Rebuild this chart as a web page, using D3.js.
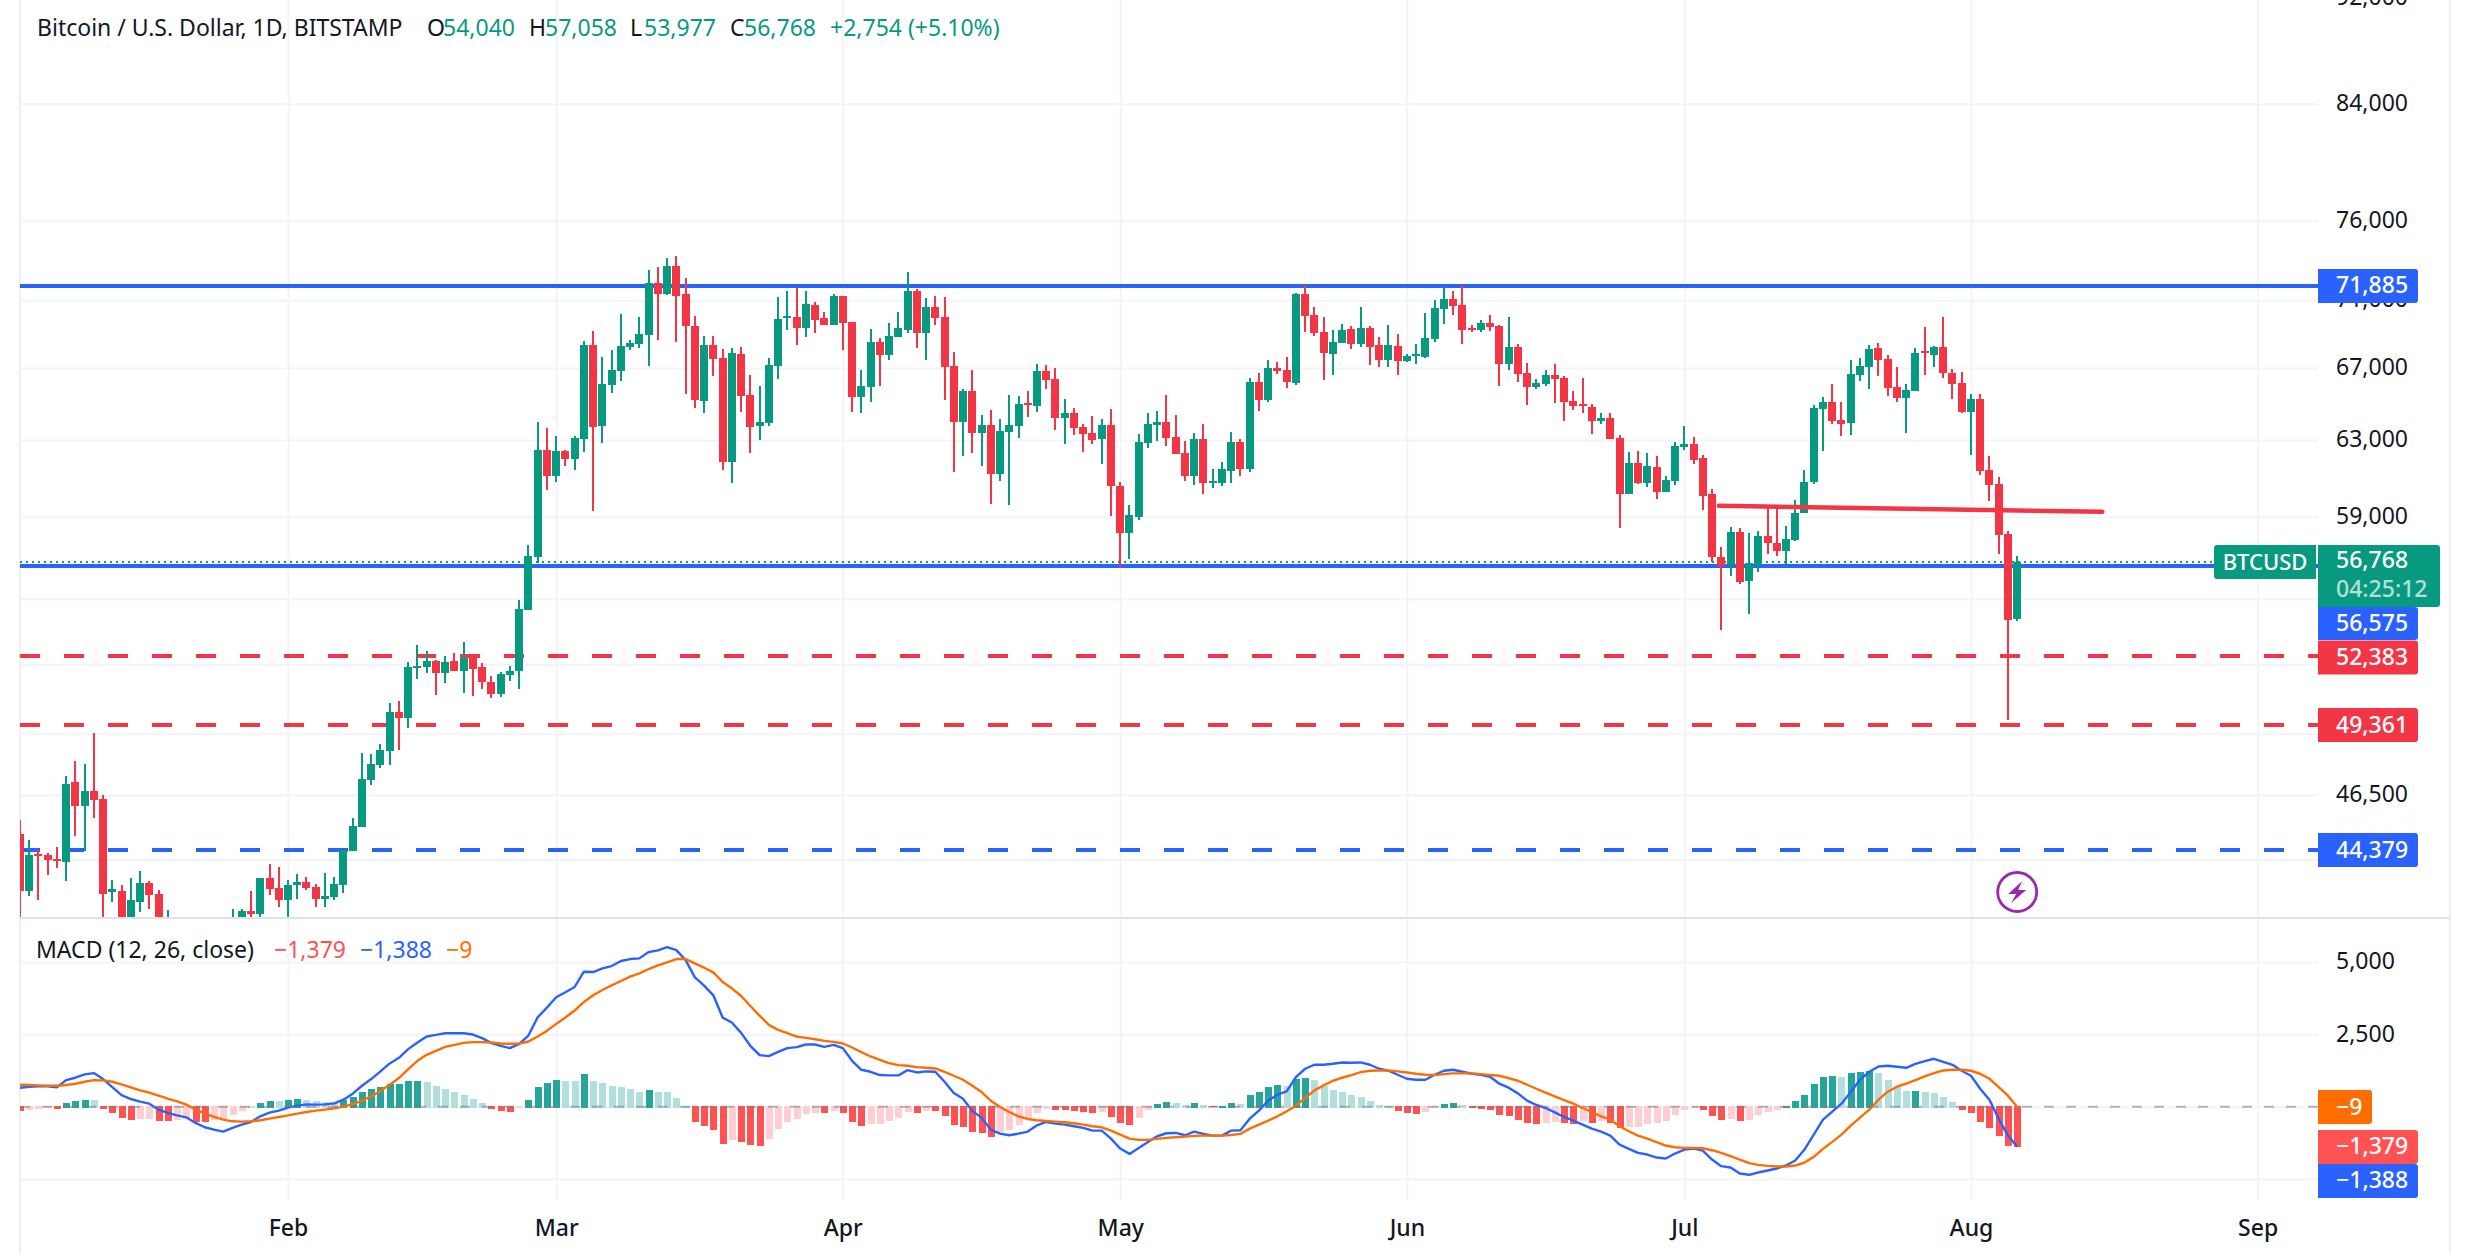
<!DOCTYPE html>
<html><head><meta charset="utf-8">
<script src="https://cdn.jsdelivr.net/npm/d3@7/dist/d3.min.js"></script>
<style>
html,body{margin:0;padding:0;background:#fff;overflow:hidden}
svg{display:block}
text{font-family:"Noto Sans",sans-serif}
</style></head><body><svg id="c" width="2470" height="1253"></svg>
<script>
const opens=[
44980,42840,44210,44180,44030,43920,47030,46070,46660,46340,42800,42840,41620,42440,43140,42720,41290,41650,41680,41580,39530,39880,40080,39950,41820,42120,42010,43320,42950,
42510,43060,43180,42990,42550,42620,43060,44320,45250,47110,47720,48290,49930,49680,51860,51900,52160,51630,52160,51720,52300,51860,51240,50710,51540,51720,54490,57010,62460,
61100,62410,61990,63060,68340,63770,66050,66840,68210,68400,68940,72070,71390,73130,71390,69470,65130,68340,67580,61830,67810,65470,63770,63930,67130,69950,70010,69350,70720,69950,69530,
71270,69710,65360,65930,68510,67750,68810,69230,71570,69050,70600,70010,67130,63990,65700,63390,63830,61210,63440,63770,65030,64860,66840,66390,64210,64480,63720,63390,63060,63830,
60570,58200,59000,62840,63830,63990,63170,62300,61100,63060,60740,60740,61360,62890,61470,66220,65190,67010,66900,66160,71390,70130,69110,67810,68450,69290,68400,69350,68340,67470,68280,
67410,67700,67640,68690,70480,71080,70720,69350,69230,69650,69470,67240,68210,66730,65930,66100,66610,66440,65130,64970,64810,64040,64210,63110,60160,61780,60740,61570,60270,60840,
62620,62790,62040,60160,57010,56630,58250,55820,56630,58050,57700,57300,57850,59200,60790,64700,65080,64100,63930,66610,67070,68160,67530,65930,65300,65700,67980,67750,68210,66730,66160,
64530,65250,61420,60690,58150,54040];
const highs=[
45520,44730,44360,44250,44480,47270,47880,47760,49030,46500,43250,43060,43320,43580,43210,42880,42150,41850,41860,41700,40150,40500,40300,42190,42190,42840,43320,43840,43730,
43250,43470,43360,43100,43510,43360,44360,45600,48210,48170,48570,50310,50400,52120,52880,52610,52210,52380,52520,53020,52470,52080,51500,51680,51940,54950,57600,63990,63660,
63220,62460,63220,68570,69170,67640,68040,70190,68630,70010,72880,73060,73620,73750,72380,70070,68880,68880,68100,68160,68210,66610,65990,67580,71200,71570,71760,71570,70900,70310,71390,
71270,69710,66900,69290,68760,69650,70310,72760,71700,71140,71270,71200,67930,65820,66900,64370,64640,64150,65470,65420,65700,67240,67190,67010,65250,64750,63880,64320,64150,64700,
60790,59600,63330,64480,64590,65470,64370,62950,63390,63880,61470,61830,63440,63060,66440,66730,67470,67360,67640,71440,71950,70600,70010,69230,69590,69470,70600,69470,68810,69530,69000,
67810,68400,70250,71020,71890,71570,71950,69530,69830,70130,69530,70010,68400,67300,66390,66900,67240,66560,65700,66440,64970,64480,64480,63280,62360,62410,62300,62150,61100,62890,
63770,63170,62200,60420,57500,58500,58450,58200,58300,59500,59500,58550,59850,61420,64920,65360,66100,65080,67470,67580,68340,68450,67750,67070,66100,68160,69410,68280,70010,66960,66790,
65530,65530,62150,61050,58300,57058];
const lows=[
40390,42660,42510,43440,43690,43210,44900,44320,45600,41620,42440,41440,41260,42080,42190,40500,40280,41500,41500,39450,38550,39500,39550,39800,41400,41620,41620,42690,42260,
41870,42550,42880,42260,42260,42510,42770,44320,45250,46910,47600,47720,48330,49260,51370,51630,50660,51190,51720,50750,50620,50930,50530,50570,51280,50930,54490,56730,60370,
60790,61620,61420,62360,59300,62840,65590,66260,68040,68160,67130,68630,71330,68510,65530,64750,64480,66560,61420,60740,64530,62300,63000,63770,66390,69230,68340,68810,69050,69530,69530,
68040,64530,64480,65080,65990,67470,68810,69050,68160,67470,69530,65190,61310,62150,62300,61620,59650,60840,59600,63110,64260,64530,65820,63550,62790,63280,62360,62790,61730,59050,
56490,56920,58850,62570,62950,62680,62250,60840,60630,60160,60480,60580,60740,61100,61310,64590,65080,66670,65870,66050,69110,68880,66330,66610,68450,68100,68210,67190,67070,67070,66610,
67360,67240,67580,68510,69590,70130,68400,69110,69110,69170,65990,66900,66220,64920,65820,65990,65030,64040,64640,64480,63330,63880,63060,58450,60160,60690,60530,59900,60270,60630,
62460,61730,59350,56770,53570,56060,55720,54310,56290,57160,57060,56530,57800,59200,60690,62410,63880,63220,63280,66270,65820,66560,65420,65080,63390,65700,66610,67070,66440,65250,64480,
62200,61150,59800,57160,49580,53977];
const closes=[
42840,44180,44140,43990,43990,46950,46070,46660,46300,42720,42910,41620,42510,43140,42690,41300,41650,41680,41580,39530,39880,40080,39950,41800,42120,42010,43310,42910,42510,
43060,43180,42950,42550,42660,43100,44360,45290,47150,47760,48330,49930,49680,51860,51940,52160,51630,52120,51720,52300,51810,51240,50710,51590,51720,54540,57060,62460,61100,
62410,61990,63110,68340,63720,66100,66900,68280,68450,69000,72070,71390,73130,71270,69470,65190,68340,67530,61830,67870,65420,63720,63990,67190,69890,70070,69350,70780,69830,69530,71270,
69650,65360,65990,68510,67750,68880,69350,71570,69050,70600,69950,67070,63990,65700,63390,63830,61210,63500,63830,64970,64920,66840,66330,64210,64480,63660,63330,63000,63830,60570,
58200,59100,62890,63880,63990,63110,62250,61100,63060,60740,60840,61470,62890,61470,66220,65190,67010,66840,66220,71390,70070,69050,67870,68510,69230,68400,69350,68210,67470,68340,67410,
67700,67810,68760,70540,71080,70660,69230,69230,69650,69410,67240,68210,66670,65930,66160,66610,66390,65080,64860,64860,64040,64210,63060,60160,61780,60740,61620,60270,60890,62680,
62790,61940,60060,57010,56580,58250,55770,56730,58050,57700,57300,57900,59200,60790,64750,65080,64040,63880,66670,67130,68100,67470,65870,65300,65760,67870,67870,68210,66730,66100,64530,
65250,61360,60630,58100,54000,56768];
const macdLine=[
655,689,701,701,666,919,1000,1115,1160,954,678,402,264,172,103,-103,-218,-299,-368,-563,-712,-793,-862,-735,-620,-529,-333,-207,-138,
-34,34,80,69,80,115,241,448,724,954,1218,1494,1689,1988,2218,2424,2482,2539,2539,2539,2493,2367,2195,2103,2022,2172,2459,3091,3424,
3780,3953,4136,4665,4653,4780,4860,5033,5102,5125,5343,5400,5515,5412,5067,4470,4182,3849,3079,2907,2551,2103,1781,1746,1896,2022,2057,2149,2149,2068,2137,
2022,1586,1275,1206,1092,1080,1080,1264,1183,1218,1206,862,471,276,-149,-379,-793,-931,-988,-931,-862,-643,-529,-586,-620,-678,-735,-827,-827,-1103,
-1448,-1632,-1425,-1218,-1023,-919,-908,-988,-862,-942,-1000,-1000,-827,-816,-414,-138,207,414,529,1023,1310,1448,1448,1482,1528,1517,1528,1448,1310,1241,1103,
965,931,931,1103,1241,1275,1206,1138,1103,1034,793,655,460,207,57,-46,-195,-356,-483,-620,-758,-862,-1000,-1310,-1459,-1597,-1655,-1758,-1792,-1620,
-1482,-1448,-1517,-1827,-2057,-2103,-2309,-2355,-2275,-2206,-2137,-2034,-1861,-1482,-965,-448,-172,103,506,931,1206,1390,1413,1379,1344,1482,1574,1655,1551,1448,1241,
1069,620,241,-414,-1000,-1388];
const signalLine=[
758,747,735,724,724,747,793,862,919,908,862,770,666,563,483,379,276,184,69,-103,-241,-356,-448,-506,-517,-506,-471,-414,-356,
-299,-241,-184,-138,-103,-57,0,92,207,356,540,758,988,1298,1586,1792,1930,2068,2137,2206,2229,2229,2218,2183,2172,2183,2252,2424,2620,
2861,3079,3321,3619,3849,4033,4194,4343,4493,4607,4757,4883,4987,5102,5102,4952,4803,4642,4309,4090,3826,3481,3148,2827,2654,2539,2424,2378,2332,2275,2241,
2183,2045,1884,1735,1620,1505,1436,1413,1367,1344,1321,1206,1069,931,724,506,207,-11,-184,-333,-425,-471,-494,-517,-540,-575,-620,-678,-712,-827,
-965,-1103,-1149,-1149,-1115,-1080,-1057,-1034,-1011,-1000,-1000,-1000,-977,-942,-758,-620,-483,-333,-161,34,299,563,735,896,1000,1092,1195,1241,1252,1252,1218,
1183,1138,1103,1092,1126,1149,1149,1149,1126,1092,1069,988,896,758,620,483,356,230,103,-46,-184,-333,-448,-678,-850,-1000,-1103,-1229,-1344,-1402,
-1425,-1425,-1436,-1505,-1597,-1712,-1827,-1953,-2011,-2045,-2068,-2068,-2034,-1930,-1735,-1459,-1218,-965,-655,-379,-103,241,517,689,793,919,1046,1160,1252,1275,1275,
1241,1138,965,678,379,-9];
const histogram=[
-138,-103,-80,-57,-70,138,207,241,240,-69,-207,-380,-450,-414,-410,-483,-485,-450,-414,-517,-518,-450,-414,-276,-138,-46,138,207,207,
241,276,241,207,172,150,241,345,517,620,690,793,800,896,900,862,724,620,517,414,276,138,-69,-138,-172,-34,241,690,827,
930,900,896,1137,896,827,724,690,620,517,586,517,510,310,20,-517,-655,-793,-1275,-1137,-1206,-1310,-1344,-1103,-758,-517,-414,-241,-207,-210,-138,
-207,-517,-655,-586,-585,-483,-379,-172,-207,-138,-140,-310,-620,-690,-862,-896,-1034,-862,-793,-620,-414,-207,-69,-103,-104,-138,-172,-207,-172,-345,
-551,-620,-379,-103,103,172,138,69,138,69,-20,34,138,103,414,517,690,758,724,965,1000,930,724,586,517,414,345,207,69,34,-138,
-207,-241,-172,-30,103,138,69,-34,-69,-103,-276,-310,-448,-551,-586,-551,-517,-552,-587,-483,-551,-480,-552,-724,-690,-689,-586,-551,-483,-276,
-103,-40,-103,-310,-448,-414,-483,-448,-276,-172,-103,34,207,414,793,1034,1068,1034,1172,1206,1241,1172,930,724,551,555,517,482,345,172,-103,
-207,-517,-724,-1000,-1370,-1379];
const priceGrid=[92000,84000,76000,71000,67000,63000,59000,55000,52000,49000,46500,44000];
const priceLabels=[92000,84000,76000,71000,67000,63000,59000,46500];
const macdGrid=[5000,2500,0,-2500];
const macdLabels=[5000,2500];
const monthTicks=["2024-02-01","2024-03-01","2024-04-01","2024-05-01","2024-06-01","2024-07-01","2024-08-01","2024-09-01"];
const solidLevels=[71885,56575];
const redDashLevels=[52383,49361];
const blueDashLevels=[44379];
const lastClose=56768;
const trendDays=["2024-07-04T18:00Z","2024-08-15T05:00Z"];
const trendPrices=[59550,59250];
const legendTitle="Bitcoin / U.S. Dollar, 1D, BITSTAMP";
const macdTitle="MACD (12, 26, close)";

const GREEN="#089981",RED="#f23645",BLUE="#2962ff",ORANGE="#ff6d00",HR="#ff5252",GRID="#f3f4f6";
const FONT=23;
const L=20,R=2318,PB=918,AX=2450;
const svg=d3.select("#c");
const dates=d3.utcDay.range(new Date("2024-01-03"),new Date("2024-08-07"));
const x=d3.scaleUtc().domain([new Date("2024-02-01"),new Date("2024-09-01")]).range([288,2257.6]);
const y=d3.scaleLog().domain([84000,46500]).range([103.7,795]);
const ym=d3.scaleLinear().domain([5000,-2500]).range([962,1179]);
const fmt=d3.format(",");

svg.append("defs").append("clipPath").attr("id","pp").append("rect").attr("x",L).attr("y",0).attr("width",R-L).attr("height",PB-1);
svg.select("defs").append("clipPath").attr("id","mp").append("rect").attr("x",L).attr("y",PB).attr("width",R-L).attr("height",1200-PB);

// vertical grid + time labels
const months=monthTicks.map(d=>new Date(d));
const gx=svg.append("g").attr("transform","translate(0,1200)")
  .call(d3.axisBottom(x).tickValues(months).tickFormat(d3.utcFormat("%b")).tickSizeInner(0).tickSizeOuter(0).tickPadding(20));
gx.select(".domain").remove();
gx.selectAll("text").attr("fill","#131722").attr("font-size",FONT).attr("font-weight",500).attr("dy","0.71em");
svg.append("g").attr("transform","translate(0,1200)")
  .call(d3.axisBottom(x).tickValues(months).tickFormat("").tickSizeInner(-1200).tickSizeOuter(0))
  .call(g=>g.select(".domain").remove())
  .selectAll("line").attr("stroke",GRID).attr("stroke-width",2);

// horizontal grids
function hgrid(scale,ticks){
  svg.append("g").attr("transform",`translate(${R},0)`)
    .call(d3.axisLeft(scale).tickValues(ticks).tickFormat("").tickSizeInner(R-L).tickSizeOuter(0))
    .call(g=>g.select(".domain").remove())
    .selectAll("line").attr("stroke",GRID).attr("stroke-width",2);
}
hgrid(y,priceGrid);hgrid(ym,macdGrid);
function vlabels(scale,ticks){
  const g=svg.append("g").attr("transform",`translate(${R},0)`)
    .call(d3.axisRight(scale).tickValues(ticks).tickFormat(fmt).tickSizeInner(0).tickSizeOuter(0).tickPadding(18));
  g.select(".domain").remove();
  g.selectAll("text").attr("fill","#131722").attr("font-size",FONT).attr("dy","0.29em");
}
vlabels(y,priceLabels);vlabels(ym,macdLabels);

// borders
svg.append("line").attr("x1",L).attr("x2",L).attr("y1",0).attr("y2",1253).attr("stroke","#eef0f4").attr("stroke-width",2);
svg.append("line").attr("x1",AX).attr("x2",AX).attr("y1",0).attr("y2",1253).attr("stroke","#eef0f4").attr("stroke-width",2);
svg.append("line").attr("x1",L).attr("x2",AX).attr("y1",PB).attr("y2",PB).attr("stroke","#e0e3eb").attr("stroke-width",2);

// price levels
const lv=svg.append("g").attr("shape-rendering","crispEdges");
function level(v,c,dash,sw){
  const p=Math.round(y(v));
  lv.append("line").attr("x1",L).attr("x2",R).attr("y1",p).attr("y2",p).attr("stroke",c).attr("stroke-width",sw).attr("stroke-dasharray",dash);
}
solidLevels.forEach(v=>level(v,BLUE,null,4));
redDashLevels.forEach(v=>level(v,RED,"20 24",4));
blueDashLevels.forEach(v=>level(v,BLUE,"20 24",4));
const cy=Math.round(y(lastClose));
lv.append("line").attr("x1",L).attr("x2",2214).attr("y1",cy).attr("y2",cy).attr("stroke",GREEN).attr("stroke-width",2).attr("stroke-dasharray","2 4");

// candles
const cg=svg.append("g").attr("clip-path","url(#pp)");
const candles=dates.map((d,i)=>({d,o:opens[i],h:highs[i],l:lows[i],c:closes[i]}));
const cs=cg.selectAll("g").data(candles).join("g").attr("fill",d=>d.c>=d.o?GREEN:RED).attr("shape-rendering","crispEdges");
cs.append("rect").attr("x",d=>Math.round(x(d.d))-1).attr("width",2).attr("y",d=>y(d.h)).attr("height",d=>y(d.l)-y(d.h));
cs.append("rect").attr("x",d=>Math.round(x(d.d))-4).attr("width",8)
  .attr("y",d=>y(Math.max(d.o,d.c))).attr("height",d=>Math.max(2,Math.abs(y(d.o)-y(d.c))));

// trend line
cg.append("path")
  .datum(trendDays.map((d,i)=>[new Date(d),trendPrices[i]]))
  .attr("d",d3.line().x(d=>x(d[0])).y(d=>y(d[1])))
  .attr("fill","none").attr("stroke",RED).attr("stroke-width",4.5).attr("stroke-linecap","round");

// MACD pane
const mg=svg.append("g").attr("clip-path","url(#mp)");
mg.selectAll("rect").data(histogram).join("rect")
  .attr("shape-rendering","crispEdges")
  .attr("x",(v,i)=>Math.round(x(dates[i]))-3.5).attr("width",7)
  .attr("y",v=>v>=0?ym(v):ym(0)-1).attr("height",v=>v>=0?ym(0)-ym(v)+1:ym(v)-ym(0)+1)
  .attr("fill",(v,i)=>{const p=i?histogram[i-1]:0;
    return v>=0?(v>p?"#26a69a":"#b2dfdb"):(v<p?HR:"#ffcdd2");});
svg.append("line").attr("x1",L).attr("x2",R).attr("y1",ym(0)).attr("y2",ym(0)).attr("stroke","#787b86").attr("stroke-opacity",.55).attr("stroke-width",2).attr("stroke-dasharray","10 12");
const ln=d3.line().x((v,i)=>x(dates[i])).y(v=>ym(v));
mg.append("path").datum(macdLine).attr("d",ln).attr("fill","none").attr("stroke",BLUE).attr("stroke-width",2.4).attr("stroke-linejoin","round");
mg.append("path").datum(signalLine).attr("d",ln).attr("fill","none").attr("stroke",ORANGE).attr("stroke-width",2.4).attr("stroke-linejoin","round");

// bolt icon
const ic=svg.append("g").attr("transform",`translate(${x(dates[dates.length-1])},892)`);
ic.append("circle").attr("r",19.5).attr("fill","#fff").attr("stroke","#9c27b0").attr("stroke-width",2.8);
ic.append("path").attr("d","M5,-11 L-9,2 L-1,2 L-6,11 L9,-2 L1,-2 Z").attr("fill","#9c27b0");

// axis label boxes
function box(yc,h,w,fill,lines){
  const top=yc-h/2,r=3,lft=R;
  svg.append("path").attr("d",`M${lft},${top}H${lft+w-r}Q${lft+w},${top} ${lft+w},${top+r}V${top+h-r}Q${lft+w},${top+h} ${lft+w-r},${top+h}H${lft}Z`).attr("fill",fill);
  lines.forEach(l=>svg.append("text").attr("x",R+18).attr("y",l.y).attr("dy","0.36em").attr("fill",l.c||"#fff").attr("font-size",FONT).attr("font-weight",500).text(l.t));
}
box(286,34,100,BLUE,[{y:284.8,t:fmt(71885)}]);
box(576,62,122,GREEN,[{y:560,t:fmt(lastClose)},{y:588.5,t:"04:25:12",c:"#b5e0d5"}]);
box(623.5,33,100,BLUE,[{y:622.5,t:fmt(56575)}]);
box(657.5,34,100,RED,[{y:657,t:fmt(52383)}]);
box(725,34,100,RED,[{y:724.5,t:fmt(49361)}]);
box(850,34,100,BLUE,[{y:849.5,t:fmt(44379)}]);
box(1107,34,54,ORANGE,[{y:1107,t:fmt(-9)}]);
box(1147,34,100,HR,[{y:1146,t:fmt(-1379)}]);
box(1181,34,100,BLUE,[{y:1180,t:fmt(-1388)}]);
// symbol tag
svg.append("path").attr("d","M2217,545H2316V579H2217Q2214,579 2214,576V548Q2214,545 2217,545Z").attr("fill",GREEN);
svg.append("text").attr("x",2265).attr("y",562).attr("dy","0.36em").attr("text-anchor","middle").attr("fill","#fff").attr("font-size",22).attr("font-weight",500).text("BTCUSD");

// legends
function tx(xp,yp,c,t){svg.append("text").attr("x",xp).attr("y",yp).attr("dy","0.36em").attr("fill",c).attr("font-size",FONT).text(t);}
const DK="#131722";
tx(37,28,DK,legendTitle);
tx(427,28,DK,"O");tx(443,28,GREEN,fmt(opens[216]));
tx(529,28,DK,"H");tx(545,28,GREEN,fmt(highs[216]));
tx(630,28,DK,"L");tx(644,28,GREEN,fmt(lows[216]));
tx(730,28,DK,"C");tx(744,28,GREEN,fmt(lastClose));
tx(830,28,GREEN,"+2,754 (+5.10%)");
tx(36,950,DK,macdTitle);
tx(274,950,HR,fmt(-1379));tx(360,950,BLUE,fmt(-1388));tx(446,950,ORANGE,fmt(-9));
</script></body></html>
